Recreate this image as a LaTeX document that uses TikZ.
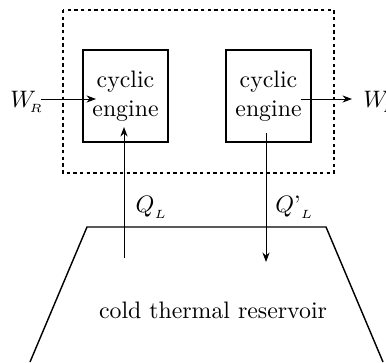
\documentclass[tikz,border=0pt]{standalone}
\usepackage{amsmath,amssymb}
\usepackage{tikz}
\usetikzlibrary{arrows.meta, positioning, calc}

\begin{document}
\begin{tikzpicture}[
              x=0.42pt, y=-0.42pt,
              engine/.style={draw, rectangle, semithick, align=center, minimum width=35.7pt, minimum height=38.6pt, inner sep=0pt},
              arr/.style={-{Stealth[length=4pt, width=3pt]}, thin}
            ]
              \useasboundingbox (0,0) rectangle (386,362);
              \draw[semithick, dash pattern=on 1.4pt off 1.4pt] (63,10) rectangle (334,173);
              \node[engine] (engL) at (125.5,96) {cyclic\\engine};
              \node[engine] (engR) at (268.5,96) {cyclic\\engine};
              \node[anchor=base west, inner sep=0pt] (wr) at (10,107) {$W_{\!_R}$};
              \node[anchor=base west, inner sep=0pt] (wl) at (363,107) {$W_{\!_L}$};
              \node (ql) at (152,207) {$Q_{_L}$};
              \node (qlp) at (295,207) {$Q$'$_{_L}$};
              \node (reservoir) at (213,310) {cold thermal reservoir};
              \coordinate (wrstart) at (41,99);
              \coordinate (wrin) at (96,99);
              \coordinate (wrout) at (301,99);
              \coordinate (wlend) at (352,99);
              \coordinate (qlstart) at (124,258);
              \coordinate (qlend) at (124,127);
              \coordinate (qlpstart) at (266,133);
              \coordinate (qlpend) at (266,262);

              \draw[semithick] (30,362) -- (87,227) -- (326,227) -- (383,362);
              \draw[arr] (wrstart) -- (wrin);
              \draw[arr] (wrout) -- (wlend);
              \draw[arr] (qlstart) -- (qlend);
              \draw[arr] (qlpstart) -- (qlpend);
            \end{tikzpicture}
\end{document}
